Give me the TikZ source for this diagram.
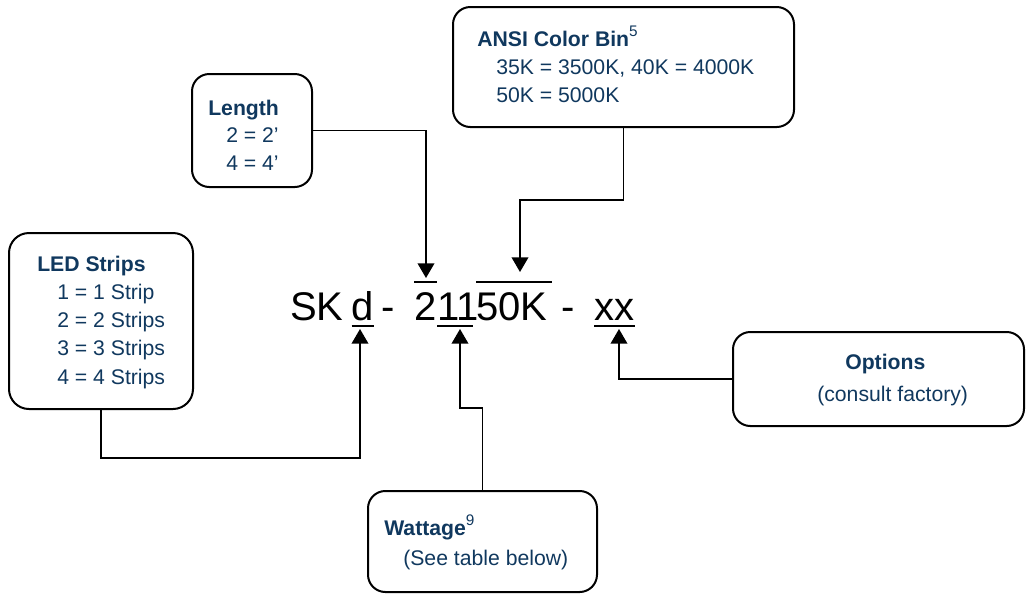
\documentclass[tikz,border=0pt]{standalone}
\usepackage{fontspec}
\setmainfont{Liberation Sans}
\usetikzlibrary{arrows.meta}
\definecolor{labelblue}{RGB}{16,56,94}
\newcommand\supnum[1]{\raisebox{0.45em}{\fontsize{11.5}{13}\selectfont\mdseries #1}}
\tikzset{
  infobox/.style={draw, line width=1.5pt, rounded corners=13pt, inner sep=0pt},
  boxtitle/.style={anchor=base west, inner sep=0pt, text=labelblue, font=\fontsize{15.9}{18}\selectfont\bfseries},
  boxline/.style={anchor=base west, inner sep=0pt, text=labelblue, font=\fontsize{15.9}{18}\selectfont},
  codepart/.style={anchor=base west, inner sep=0pt, font=\fontsize{30}{36}\selectfont},
  pointer/.style={line width=1.15pt, -{Triangle[width=12.5pt,length=11pt]}},
  markbar/.style={line width=1.1pt}
}
\begin{document}
\begin{tikzpicture}[x=0.75pt, y=-0.75pt]
\useasboundingbox (0,0) rectangle (1026,594);
% boxes
\node[infobox, rounded corners=15pt, minimum width=138pt, minimum height=132pt] (led) at (101,321) {};
\node[infobox, minimum width=90pt, minimum height=84.75pt] (len) at (252,130.5) {};
\node[infobox, minimum width=255.75pt, minimum height=90pt] (ansi) at (623.5,67) {};
\node[infobox, minimum width=218.25pt, minimum height=70.5pt] (opt) at (878.5,379) {};
\node[infobox, minimum width=171.75pt, minimum height=75.75pt] (watt) at (482.5,541.5) {};
% box texts
\node[boxtitle] (ledT) at (37,271) {LED Strips};
\foreach \cnt/\word in {1/Strip,2/Strips,3/Strips,4/Strips}
  \node[boxline] (led\cnt) at (57,{271+28.3*\cnt}) {\cnt{} = \cnt{} \word};
\node[boxtitle] (lenT) at (208,115) {Length};
\node[boxline] (len2) at (226,142) {2 = 2’};
\node[boxline] (len4) at (226,170) {4 = 4’};
\node[boxtitle] (ansiT) at (477,46) {ANSI Color Bin\supnum{5}};
\node[boxline] (ansiA) at (496,74) {35K = 3500K, 40K = 4000K};
\node[boxline] (ansiB) at (496,102) {50K = 5000K};
\node[boxtitle] (optT) at (845,369) {Options};
\node[boxline] (optA) at (817,401) {(consult factory)};
\node[boxtitle] (wattT) at (384,535) {Wattage\supnum{9}};
\node[boxline] (wattA) at (403,565) {(See table below)};
% part number
\node[codepart] (sk) at (290,320) {SK};
\node[codepart] (d) at (351.5,320) {d};
\node[codepart] (dashA) at (381,320) {-};
\node[codepart] (two) at (414,320) {2};
\node[codepart] (ones) at (437,320) {11};
\node[codepart] (fifty) at (476,320) {50K};
\node[codepart] (dashB) at (561,320) {-};
\node[codepart] (xx) at (594,320) {xx};
\draw[markbar] (d.west |- 0,326) -- (d.east |- 0,326);
\draw[markbar] (two.west |- 0,282) -- (two.east |- 0,282);
\draw[markbar, shorten >=4.5pt] (ones.west |- 0,326) -- (ones.east |- 0,326);
\draw[markbar, shorten >=-3.5pt] (fifty.west |- 0,282) -- (fifty.east |- 0,282);
\draw[markbar] (xx.west |- 0,326) -- (xx.east |- 0,326);
% connectors
\coordinate (dTip) at (360,329);
\coordinate (twoTip) at (426,278);
\coordinate (onesTip) at (460,329);
\coordinate (fiftyTip) at (520,272);
\coordinate (xxTip) at (619,329);
\draw[pointer] (led.south) -- ++(0,48) -| (dTip);
\draw[pointer] (len.east) -| (twoTip);
\draw[pointer] (ansi.south) -- ++(0,72) -| (fiftyTip);
\draw[pointer] (watt.north) -- ++(0,-82) -| (onesTip);
\draw[pointer] (opt.west) -| (xxTip);
\end{tikzpicture}
\end{document}
